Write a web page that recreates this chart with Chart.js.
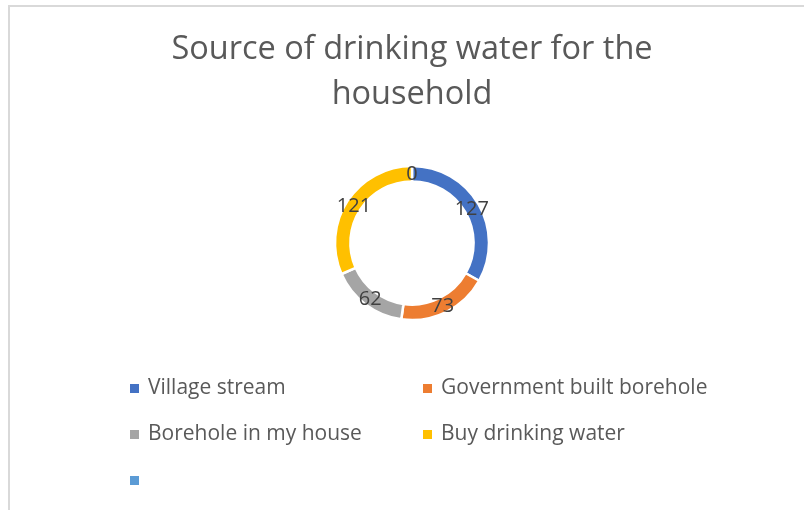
<!DOCTYPE html>
<html>
<head>
<meta charset="utf-8">
<script src="https://cdn.jsdelivr.net/npm/chart.js@4/dist/chart.umd.min.js"></script>
<style>
  body { margin: 0; background: #fff; }
  #frame { position: absolute; left: 8px; top: 5px; width: 796px; height: 505px;
           border-left: 2px solid #d9d9d9; border-top: 2px solid #d9d9d9; }
  canvas { position: absolute; left: 0; top: 0; }
</style>
</head>
<body>
<div id="frame"></div>
<canvas id="chart" width="804" height="510"></canvas>
<script>
const categories = ['Village stream', 'Government built borehole', 'Borehole in my house', 'Buy drinking water', '']
const households = [127, 73, 62, 121, 0]
const colours = ['#4472C4', '#ED7D31', '#A5A5A5', '#FFC000', '#5B9BD5']
const titleLines = ['Source of drinking water for the', 'household']

const fontFamily = "'Open Sans', 'Liberation Sans', sans-serif"

// numbers on the ring, at the middle of each slice
const sliceLabels = {
    id: 'sliceLabels',
    afterDatasetsDraw: chart => {
        const ctx = chart.ctx
        const meta = chart.getDatasetMeta(0)
        ctx.save()
        ctx.font = `20px ${fontFamily}`
        ctx.fillStyle = '#404040'
        ctx.textAlign = 'center'
        ctx.textBaseline = 'middle'
        meta.data.forEach((arc, i) => {
            const pos = arc.tooltipPosition()
            ctx.fillText(String(households[i]), pos.x, pos.y + 1)
        })
        ctx.restore()
    }
}

// two column legend like the office chart
const gridLegend = {
    id: 'gridLegend',
    afterDraw: chart => {
        const ctx = chart.ctx
        const cols = [130, 423]
        ctx.save()
        ctx.font = `21px ${fontFamily}`
        ctx.textBaseline = 'middle'
        categories.forEach((label, i) => {
            const x = cols[i % 2]
            const y = 388 + Math.floor(i / 2) * 46
            ctx.fillStyle = colours[i]
            ctx.fillRect(x, y - 4, 9, 9)
            ctx.fillStyle = '#595959'
            ctx.fillText(label, x + 18, y)
        })
        ctx.restore()
    }
}

new Chart(document.getElementById('chart').getContext('2d'), {
    type: 'doughnut',
    data: {
        labels: categories,
        datasets: [{
            data: households,
            backgroundColor: colours,
            borderColor: '#ffffff',
            borderWidth: 2.5
        }]
    },
    options: {
        responsive: false,
        animation: false,
        radius: 77,
        cutout: '80%',
        layout: { padding: { top: 0, left: 20, right: 0, bottom: 151 } },
        plugins: {
            legend: { display: false },
            tooltip: { enabled: false },
            title: {
                display: true,
                text: titleLines,
                color: '#595959',
                font: { family: fontFamily, size: 32.5, weight: 'normal', lineHeight: 1.385 },
                padding: { top: 27, bottom: 10 }
            }
        }
    },
    plugins: [sliceLabels, gridLegend]
})
</script>
</body>
</html>
